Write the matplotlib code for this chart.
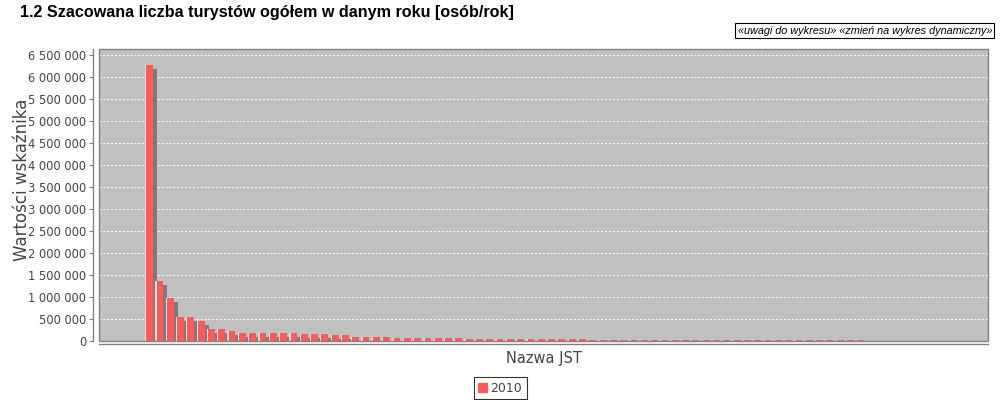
import matplotlib
matplotlib.use("Agg")
import matplotlib.pyplot as plt
import matplotlib.transforms as mtransforms
from matplotlib.patches import Patch, Rectangle
from matplotlib.ticker import FuncFormatter, MultipleLocator

# Szacowana liczba turystow w 2010 (posortowane malejaco)
series_name = "2010"
values = [
    6280000, 1370000, 980000, 545000, 540000, 460000, 270000, 265000, 225000, 190000,
    185000, 180000, 178000, 175000, 172000, 165000, 150000, 148000, 132000, 128000,
    100000, 95000, 88000, 82000, 78000, 74000, 70000, 66000, 63000, 60000,
    57000, 55000, 52000, 50000, 48000, 46000, 44000, 43000, 41000, 40000,
    38000, 37000, 35000, 34000, 33000, 32000, 31000, 30000, 29000, 28000,
    27000, 26000, 25000, 24000, 23000, 22000, 21000, 20000, 19500, 19000,
    18500, 18000, 17000, 16500, 16000, 15000, 14500, 14000, 13000, 12000,
    11000, 3000, 1500, 1000, 700, 400, 200, 100,
]
categories = list(range(len(values)))

title = "1.2 Szacowana liczba turystów ogółem w danym roku [osób/rok]"
links = "«uwagi do wykresu» «zmień na wykres dynamiczny»"
y_label = "Wartości wskaźnika"
x_label = "Nazwa JST"

bar_red = "#ff5b5b"
plot_bg = "#c0c0c0"
text_gray = "#444444"

fig = plt.figure(figsize=(10, 4), dpi=100)
ax = fig.add_axes([0.099, 1 - 341 / 400, 0.889, 292 / 400])
ax.set_facecolor(plot_bg)

# cien slupkow przesuniety o 4 px w prawo i w dol
shadow = ax.transData + mtransforms.ScaledTranslation(4 / 100, -4 / 100, fig.dpi_scale_trans)
ax.bar(categories, values, width=0.78, color="#7c7c7c", transform=shadow, zorder=2)
ax.bar(categories, values, width=0.78, color=bar_red, zorder=3)
# jasna krawedz z lewej (gradient)
ax.bar([c - 0.33 for c in categories], values, width=0.12, color="#ffd6d6", zorder=4)

ax.set_xlim(-4.85, 81.4)
ax.set_ylim(0, 6636000)
ax.yaxis.set_major_locator(MultipleLocator(500000))
ax.yaxis.set_major_formatter(FuncFormatter(lambda v, p: f"{int(v):,}".replace(",", " ")))
ax.grid(axis="y", color="white", linestyle=(0, (2, 2)), linewidth=0.7, zorder=1)
ax.set_xticks([])

ax.tick_params(axis="y", labelsize=8.3, colors="#808080", labelcolor=text_gray,
               length=3, width=0.8, pad=2)

for s in ["top", "right"]:
    ax.spines[s].set_visible(False)
ax.spines["left"].set_position(("outward", 4.3))
ax.spines["bottom"].set_position(("outward", 2.2))
ax.spines["left"].set_color("#808080")
ax.spines["bottom"].set_color("#808080")
ax.spines["left"].set_linewidth(1.0)
ax.spines["bottom"].set_linewidth(1.0)

# ramka obszaru wykresu
ax.add_patch(Rectangle((0, 0), 1, 1, transform=ax.transAxes, fill=False,
                       edgecolor="#808080", linewidth=1.0, zorder=5, clip_on=False))

ax.set_ylabel(y_label, fontsize=12, color=text_gray, va="center")
ax.yaxis.set_label_coords((22 - 99) / 889, (341 - 180) / 292)
ax.set_xlabel(x_label, fontsize=10.5, color=text_gray, labelpad=5)

fig.text(0.02, 1 - 12 / 400, title, fontsize=11.6, fontweight="bold",
         family="Liberation Sans", va="center", ha="left")
fig.text(0.992, 1 - 30.5 / 400, links, fontsize=7.85, style="italic",
         family="Liberation Sans", va="center", ha="right",
         bbox=dict(boxstyle="square,pad=0.2", facecolor="white", edgecolor="black", linewidth=0.8))

leg = fig.legend(handles=[Patch(color=bar_red, label=series_name)],
                 loc="center", bbox_to_anchor=(0.5, 1 - 388 / 400),
                 fontsize=9, frameon=True, fancybox=False,
                 handlelength=0.7, handleheight=0.7, handletextpad=0.3,
                 borderpad=0.35, borderaxespad=0)
leg.get_frame().set_edgecolor("black")
leg.get_frame().set_linewidth(0.8)
for t in leg.get_texts():
    t.set_color(text_gray)

fig.savefig("out.png", dpi=100)
